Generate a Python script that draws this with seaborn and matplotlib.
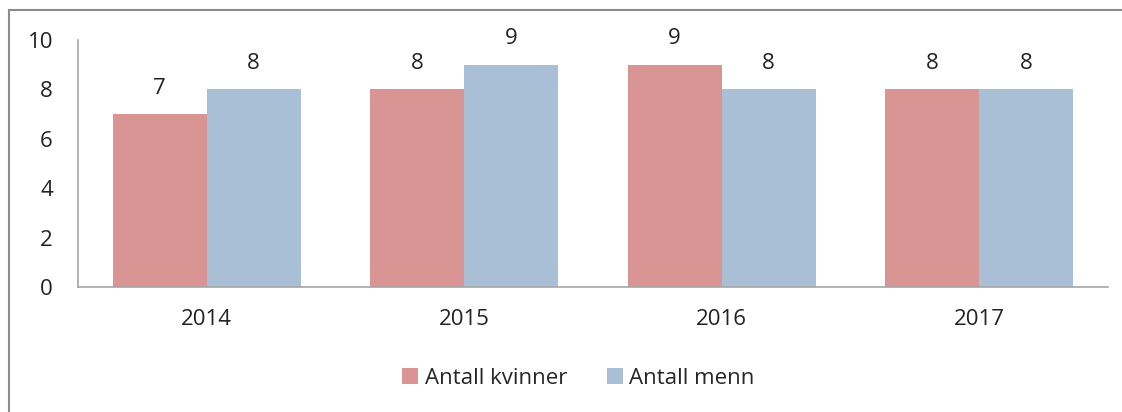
import pandas as pd
import seaborn as sns
import matplotlib.pyplot as plt
from matplotlib.patches import Rectangle

years = ['2014', '2015', '2016', '2017']
kvinner = [7, 8, 9, 8]
menn = [8, 9, 8, 8]
series = ['Antall kvinner', 'Antall menn']

df = pd.DataFrame({
    'year': years * 2,
    'value': kvinner + menn,
    'serie': [series[0]] * 4 + [series[1]] * 4,
})

sns.set_style('white')
plt.rcParams['font.family'] = ['Open Sans', 'DejaVu Sans']

fig = plt.figure(figsize=(11.22, 4.12), dpi=100)
ax = fig.add_axes([0.0695, 0.3034, 0.918, 0.5995])
sns.barplot(data=df, x='year', y='value', hue='serie',
            palette=['#d99594', '#a8bfd6'], width=0.73, saturation=1,
            linewidth=0, ax=ax, legend=True)

for c in ax.containers:
    ax.bar_label(c, padding=11, fontsize=16, color='#222222')

ax.set_ylim(0, 10)
ax.set_yticks(range(0, 11, 2))
ax.set_xlim(-0.5, 3.5)
ax.set_xlabel('')
ax.set_ylabel('')
ax.tick_params(axis='both', length=0, labelsize=16, colors='#222222')
ax.tick_params(axis='x', pad=16)
ax.tick_params(axis='y', pad=18)
for s in ['top', 'right']:
    ax.spines[s].set_visible(False)
for s in ['left', 'bottom']:
    ax.spines[s].set_color('#a6a6a6')
    ax.spines[s].set_linewidth(1.2)

ax.legend(loc='center', bbox_to_anchor=(0.486, -0.37), ncol=2, frameon=False,
          fontsize=16, handlelength=0.7, handleheight=0.7, handletextpad=0.3,
          columnspacing=1.8)

fig.patches.append(Rectangle((9 / 1122, -0.1), 1.2, 1 - 10 / 412 + 0.1,
                             transform=fig.transFigure, fill=False,
                             edgecolor='#8c8c8c', linewidth=1.5))

fig.savefig('out.png', dpi=100)
